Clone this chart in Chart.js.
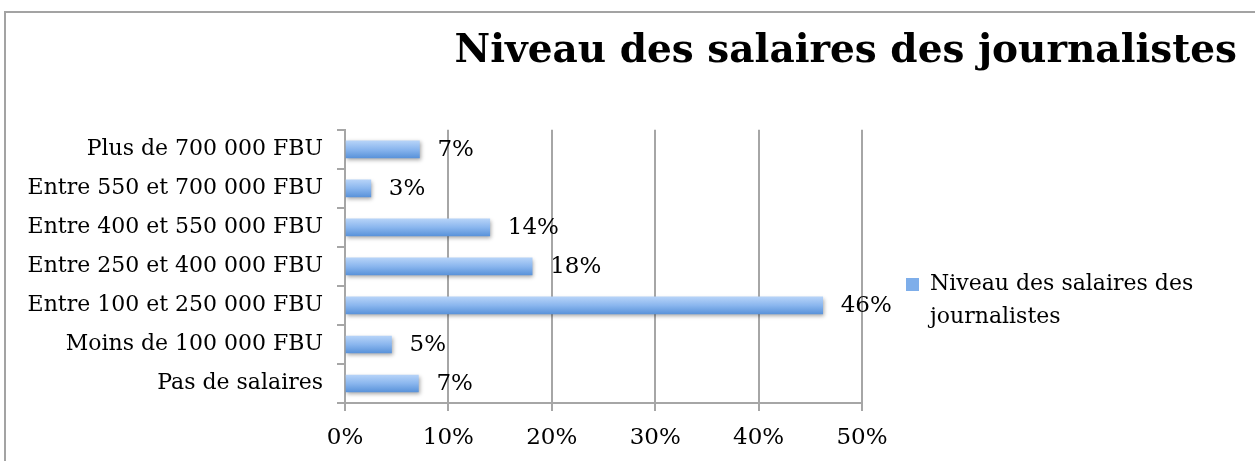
<!DOCTYPE html>
<html>
<head>
<meta charset="utf-8">
<script src="https://cdn.jsdelivr.net/npm/chart.js@4.4.0/dist/chart.umd.min.js"></script>
<style>
  html, body { margin: 0; padding: 0; background: #ffffff; }
  #wrap { position: relative; width: 1255px; height: 461px; overflow: hidden; }
  #frame { position: absolute; left: 4px; top: 11px; width: 1300px; height: 500px;
           border-left: 2px solid #a3a3a3; border-top: 2px solid #a3a3a3; }
  canvas { position: absolute; left: 0; top: 0; }
</style>
</head>
<body>
<div id="wrap">
  <div id="frame"></div>
  <canvas id="salaryChart" width="1255" height="461"></canvas>
</div>
<script>
const categories = [
  'Plus de 700 000 FBU',
  'Entre 550 et 700 000 FBU',
  'Entre 400 et 550 000 FBU',
  'Entre 250 et 400 000 FBU',
  'Entre 100 et 250 000 FBU',
  'Moins de 100 000 FBU',
  'Pas de salaires'
];
// bar lengths (percent)
const salaryShare = [7.2, 2.5, 14.0, 18.1, 46.2, 4.5, 7.1];
// labels printed next to the bars
const shareLabels = ['7%', '3%', '14%', '18%', '46%', '5%', '7%'];
const xTickValues = [0, 10, 20, 30, 40, 50];

const seriesName = 'Niveau des salaires des journalistes';
const legendLines = ['Niveau des salaires des', 'journalistes'];

const serif = '"DejaVu Serif", serif';
const gridGrey = '#a6a6a6';

function barGradient(c) {
  const chart = c.chart;
  const yScale = chart.scales.y;
  if (!yScale || c.dataIndex === undefined) return '#7eaeea';
  const cy = yScale.getPixelForValue(c.dataIndex);
  const g = chart.ctx.createLinearGradient(0, cy - 8.5, 0, cy + 8.5);
  g.addColorStop(0, '#b6d3f8');
  g.addColorStop(0.5, '#8ab6ee');
  g.addColorStop(1, '#5a93da');
  return g;
}

// soft shadow under the bars, then the value labels
const barExtras = {
  id: 'barExtras',
  afterLayout(chart) {
    // move the legend item next to the plot like the original
    chart.legend.left -= 76;
    chart.legend.top += 70;
    chart.legend.bottom += 70;
  },
  beforeDatasetsDraw(chart) {
    const ctx = chart.ctx;
    ctx.save();
    ctx.shadowColor = 'rgba(0, 0, 0, 0.35)';
    ctx.shadowBlur = 4;
    ctx.shadowOffsetY = 2;
    ctx.shadowOffsetX = 1;
  },
  afterDatasetsDraw(chart) {
    const ctx = chart.ctx;
    ctx.restore();
    const meta = chart.getDatasetMeta(0);
    ctx.save();
    ctx.font = '23px ' + serif;
    ctx.fillStyle = '#000000';
    ctx.textBaseline = 'middle';
    ctx.textAlign = 'left';
    meta.data.forEach((bar, i) => {
      ctx.fillText(shareLabels[i], bar.x + 18, bar.y + 1);
    });
    ctx.restore();
  }
};

new Chart(document.getElementById('salaryChart'), {
  type: 'bar',
  data: {
    labels: categories,
    datasets: [{
      label: seriesName,
      data: salaryShare,
      backgroundColor: barGradient,
      borderWidth: 0,
      barThickness: 17
    }]
  },
  options: {
    indexAxis: 'y',
    responsive: false,
    animation: false,
    layout: { padding: { left: 5, right: 18, top: 12, bottom: 0 } },
    scales: {
      x: {
        min: 0,
        max: 50,
        afterBuildTicks: (s) => { s.ticks = xTickValues.map(v => ({ value: v })); },
        afterFit: (s) => { s.height = 58; },
        ticks: {
          color: '#000000',
          padding: 13,
          font: { family: serif, size: 23 },
          callback: (v) => v + '%'
        },
        grid: { color: gridGrey, lineWidth: 2, tickLength: 8 },
        border: { color: gridGrey, width: 2 }
      },
      y: {
        afterFit: (s) => { s.width = 340; },
        ticks: {
          color: '#000000',
          padding: 14,
          font: { family: serif, size: 22 }
        },
        grid: { offset: true, drawOnChartArea: false, color: gridGrey, lineWidth: 2, tickLength: 8 },
        border: { color: gridGrey, width: 2 }
      }
    },
    plugins: {
      title: {
        display: true,
        text: seriesName,
        align: 'end',
        color: '#000000',
        font: { family: serif, size: 39, weight: 'bold' },
        padding: { top: 16, bottom: 55 }
      },
      legend: {
        position: 'right',
        maxWidth: 375,
        labels: {
          boxWidth: 13,
          boxHeight: 13,
          padding: 120,
          color: '#000000',
          font: { family: serif, size: 22, lineHeight: 1.5 },
          generateLabels: () => [{
            text: legendLines,
            fillStyle: '#7eaeea',
            strokeStyle: '#7eaeea',
            lineWidth: 0,
            hidden: false,
            datasetIndex: 0
          }]
        }
      },
      tooltip: { enabled: false }
    }
  },
  plugins: [barExtras]
});
</script>
</body>
</html>
